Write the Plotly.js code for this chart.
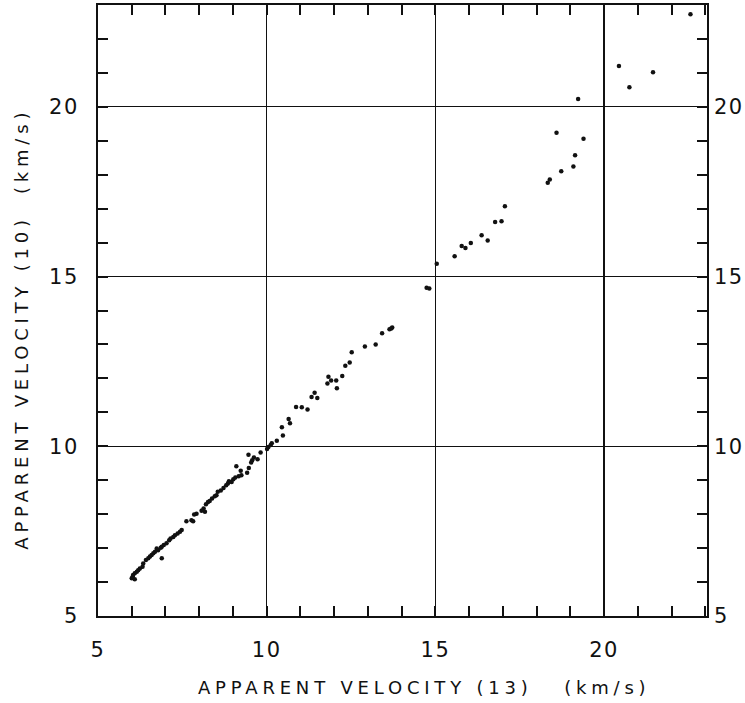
<!DOCTYPE html>
<html>
<head>
<meta charset="utf-8">
<script src="https://cdn.plot.ly/plotly-3.0.1.min.js"></script>
<style>
html,body{margin:0;padding:0;background:#fff;}
#chart{width:745px;height:703px;}
.annotation-text{letter-spacing:4.8px;}
.xtick text, .ytick text, .y2tick text{letter-spacing:1.5px;}
</style>
</head>
<body>
<div id="chart"></div>
<script>
// Apparent velocity (13) in km/s
const velocity13 = [
 22.56,20.44,21.45,20.75,19.23,18.59,19.39,19.14,19.09,18.73,18.39,18.33,17.06,16.77,16.96,16.37,16.55,16.05,15.78,15.89,15.57,15.04,14.74,14.82,
 13.72,13.64,13.69,13.42,13.23,12.91,12.52,12.46,12.33,12.24,11.83,11.91,11.80,12.06,12.08,11.42,11.33,11.50,10.87,11.04,11.21,10.65,10.69,10.45,10.48,10.30,10.15,10.12,10.05,10.01,9.82,
 9.73,9.62,9.57,9.54,9.46,9.47,9.42,9.10,9.23,9.25,9.17,9.07,9.01,8.96,8.88,8.85,8.80,8.72,8.64,8.55,8.51,8.46,8.38,8.31,8.26,8.20,8.13,8.17,8.07,7.92,7.85,7.77,7.82,7.62,
 7.48,7.43,7.36,7.28,7.23,7.15,7.11,7.03,6.95,6.89,6.86,6.78,6.74,6.89,6.69,6.64,6.59,6.54,6.49,6.42,6.34,6.32,6.24,6.19,6.15,6.09,6.04,6.00,6.09,6.03
];
// Apparent velocity (10) in km/s
const velocity10 = [
 22.73,21.20,21.02,20.58,20.23,19.24,19.06,18.57,18.24,18.10,17.86,17.76,17.07,16.61,16.63,16.22,16.06,15.99,15.90,15.84,15.60,15.38,14.67,14.65,
 13.50,13.45,13.47,13.33,13.00,12.94,12.77,12.47,12.37,12.07,12.05,11.94,11.85,11.94,11.71,11.58,11.45,11.42,11.16,11.15,11.08,10.80,10.68,10.56,10.32,10.16,10.09,10.04,9.98,9.92,9.82,
 9.62,9.67,9.59,9.52,9.75,9.36,9.22,9.41,9.28,9.15,9.12,9.08,9.03,8.95,8.97,8.90,8.85,8.77,8.70,8.66,8.56,8.53,8.46,8.39,8.36,8.29,8.17,8.07,8.10,8.01,7.99,7.82,7.79,7.79,
 7.53,7.48,7.43,7.38,7.33,7.28,7.23,7.14,7.09,7.04,7.01,6.94,6.99,6.70,6.89,6.85,6.80,6.75,6.70,6.65,6.55,6.45,6.40,6.35,6.30,6.26,6.21,6.11,6.08,6.16
];
const tickValues = [5, 10, 15, 20];
const tickLabels = ['5', '10', '15', '20'];
const xTitle = 'APPARENT VELOCITY (13)\u00a0\u00a0\u00a0(km/s)';
const yTitle = 'APPARENT VELOCITY (10)\u00a0\u00a0(km/s)';

const tickFont = {family: 'DejaVu Sans', size: 21, color: '#111'};
const titleFont = {family: 'DejaVu Sans', size: 18, color: '#111'};

const minorTicks = {dtick: 1, tick0: 5, ticks: 'inside', ticklen: 10, tickwidth: 2, tickcolor: '#111', showgrid: false};

const data = [
  {x: velocity13, y: velocity10, type: 'scatter', mode: 'markers',
   marker: {color: '#111', size: 4.5}, hoverinfo: 'x+y'},
  {x: [], y: [], yaxis: 'y2', type: 'scatter', mode: 'markers', showlegend: false, hoverinfo: 'skip'}
];

const layout = {
  width: 745, height: 703,
  margin: {l: 98, r: 38, t: 5, b: 87},
  paper_bgcolor: '#fff', plot_bgcolor: '#fff',
  showlegend: false,
  font: {family: 'DejaVu Sans', color: '#111'},
  xaxis: {
    range: [5, 23.05], tickmode: 'array', tickvals: tickValues, ticktext: tickLabels,
    ticks: 'inside', ticklen: 0, tickfont: tickFont, ticklabelstandoff: 14,
    showgrid: true, gridcolor: '#111', gridwidth: 1.3,
    showline: true, linecolor: '#111', linewidth: 2, mirror: 'ticks',
    zeroline: false, minor: minorTicks
  },
  yaxis: {
    range: [5, 23], tickmode: 'array', tickvals: tickValues, ticktext: tickLabels,
    ticks: 'inside', ticklen: 0, tickfont: tickFont, ticklabelstandoff: 13,
    showgrid: true, gridcolor: '#111', gridwidth: 1.3,
    showline: true, linecolor: '#111', linewidth: 2, mirror: 'ticks',
    zeroline: false, minor: minorTicks
  },
  yaxis2: {
    range: [5, 23], overlaying: 'y', side: 'right', tickmode: 'array',
    tickvals: tickValues, ticktext: tickLabels, tickfont: tickFont,
    ticks: '', showgrid: false, showline: false, zeroline: false, ticklabelstandoff: 6
  },
  annotations: [
    {text: xTitle, xref: 'paper', yref: 'paper', x: 0.535, y: -0.117, xanchor: 'center', yanchor: 'middle',
     showarrow: false, font: titleFont},
    {text: yTitle, xref: 'paper', yref: 'paper', x: -0.125, y: 0.47, xanchor: 'center', yanchor: 'middle',
     textangle: -90, showarrow: false, font: titleFont}
  ]
};

Plotly.newPlot('chart', data, layout, {staticPlot: true});
</script>
</body>
</html>
